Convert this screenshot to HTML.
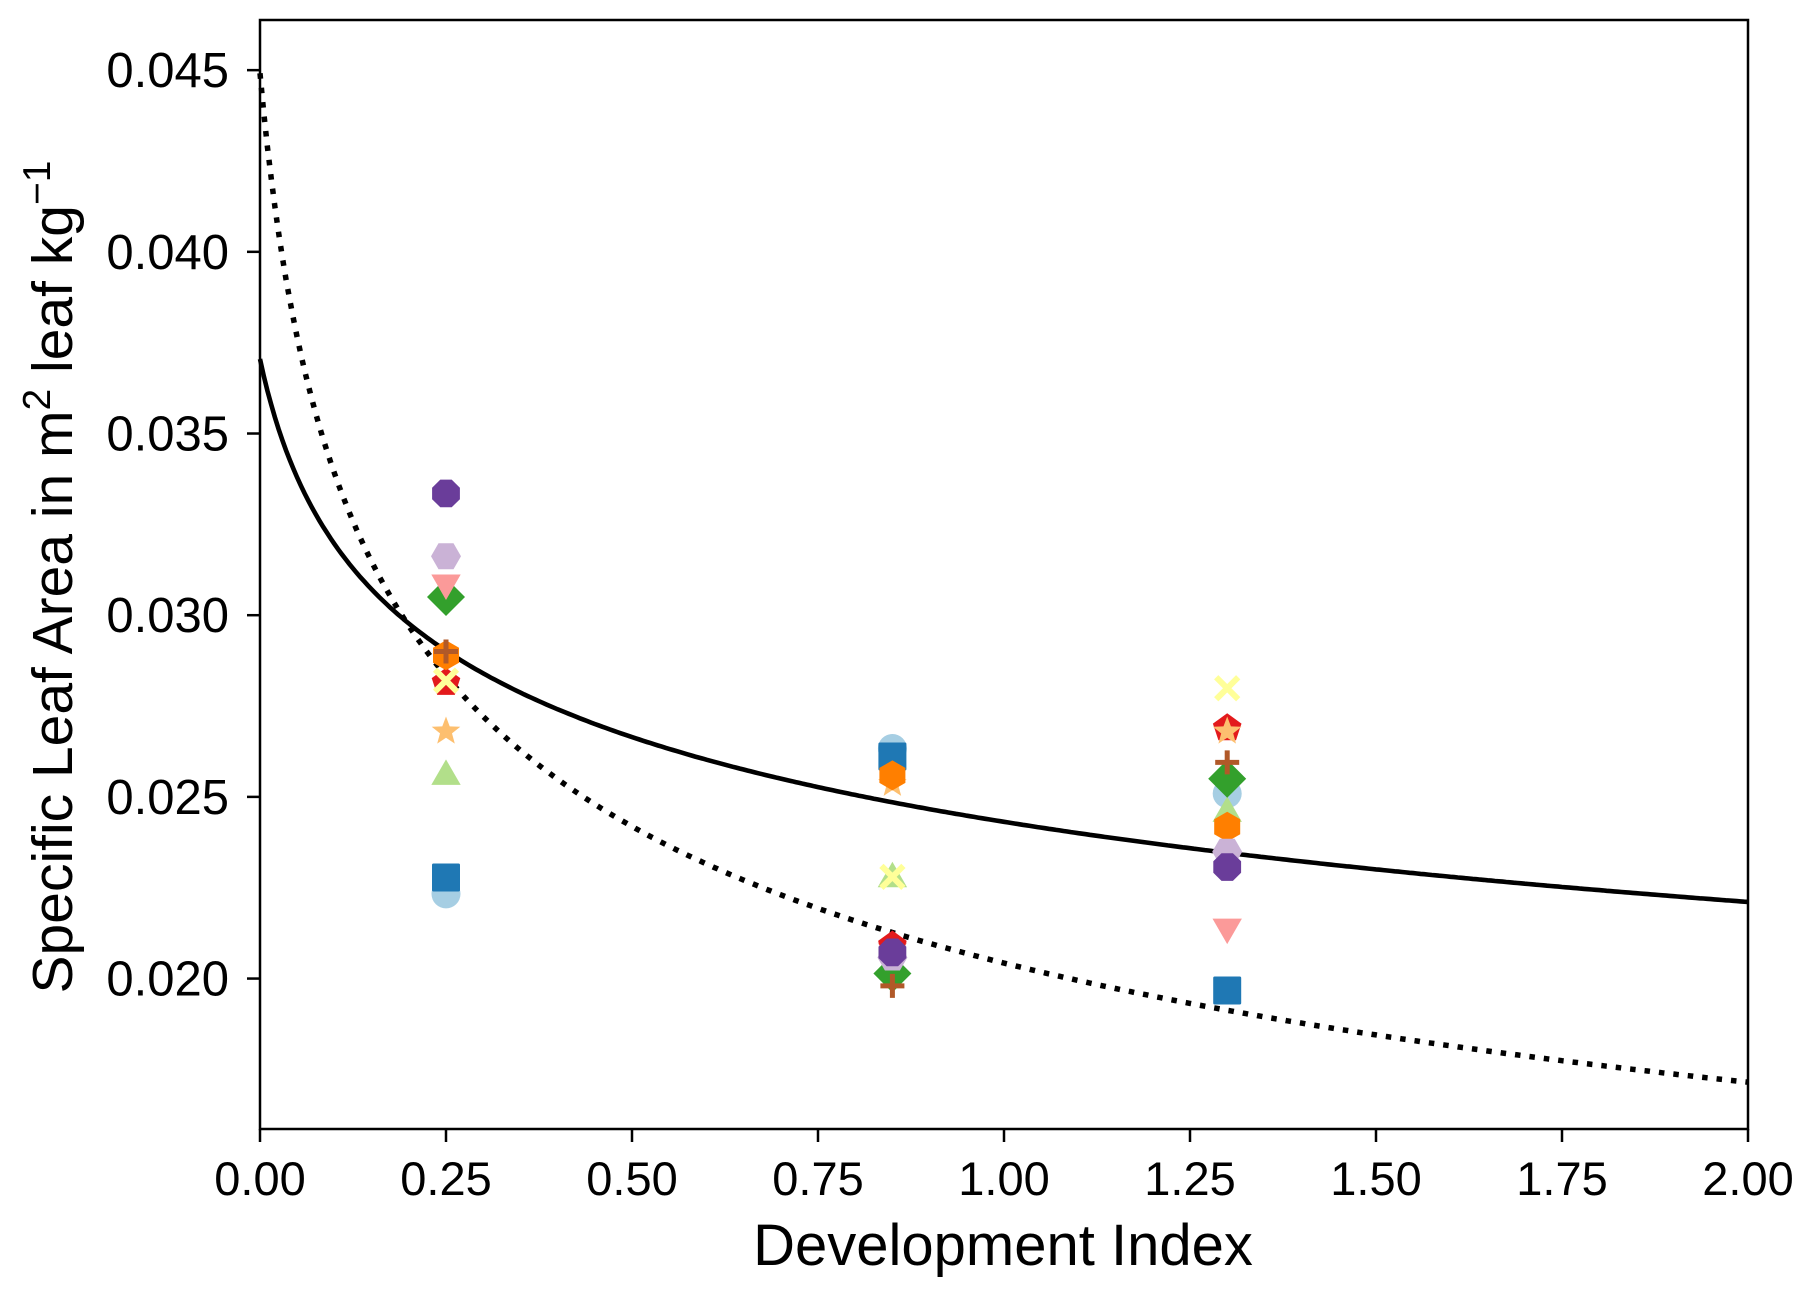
<!DOCTYPE html>
<html><head><meta charset="utf-8"><style>
html,body{margin:0;padding:0;background:#fff;}
svg{display:block;font-family:"Liberation Sans",Arial,sans-serif;}
</style></head><body>
<svg id="chart" width="1811" height="1295" viewBox="0 0 1811 1295" xmlns="http://www.w3.org/2000/svg">
<rect width="1811" height="1295" fill="#fff"/>
<g id="curves"></g>
<g id="marks"></g>
<g id="axes"></g>
<text x="1003" y="1265" font-size="58" text-anchor="middle">Development Index</text>
<text transform="translate(72,577) rotate(-90)" font-size="57" text-anchor="middle">Specific Leaf Area in m<tspan font-size="39" dy="-22">2</tspan><tspan dy="22"> leaf kg</tspan><tspan font-size="39" dy="-22">−1</tspan></text>
</svg>
<script>
const xTicks=[0,0.25,0.5,0.75,1.0,1.25,1.5,1.75,2.0];
const xTickLabels=["0.00","0.25","0.50","0.75","1.00","1.25","1.50","1.75","2.00"];
const yTicks=[0.020,0.025,0.030,0.035,0.040,0.045];
const yTickLabels=["0.020","0.025","0.030","0.035","0.040","0.045"];
const stages=[0.25,0.85,1.3];
const sCircle=[0.02233,0.02633,0.02509];
const sSquare=[0.02278,0.02611,0.01967];
const sTriUp=[0.02562,0.0228,0.0246];
const sDiamond=[0.0305,0.02014,0.0255];
const sTriDown=[0.03083,0.0207,0.02136];
const sPentagon=[0.02814,0.02091,0.02689];
const sStar=[0.0268,0.02536,0.0268];
const sHexOrange=[0.0289,0.02559,0.02418];
const sHexLilac=[0.03162,0.02058,0.02349];
const sOctagon=[0.03335,0.02072,0.02307];
const sCross=[0.0282,0.0228,0.02799];
const sPlus=[0.029,0.0198,0.02595];
const solidParams=[0.0245,0.055,0.1426];
const dottedParams=[0.0207,0.052,0.262];

const L=260,R=1748,T=20,B=1129,xmin=0,xmax=2,ymin=0.01586,ymax=0.04638;
const X=v=>L+(v-xmin)/(xmax-xmin)*(R-L);
const Y=v=>B-(v-ymin)/(ymax-ymin)*(B-T);
const NS="http://www.w3.org/2000/svg";
function mk(tag,attrs,parent){const e=document.createElementNS(NS,tag);for(const k in attrs)e.setAttribute(k,attrs[k]);parent.appendChild(e);return e;}

const cg=document.getElementById('curves');
function curvePath(p,cap){let d="";for(let i=0;i<=400;i++){const x=xmax*i/400;const y=p[0]*Math.pow(x+p[1],-p[2]);d+=(i?"L":"M")+X(x).toFixed(1)+","+Y(Math.min(y,cap)).toFixed(1);}return d;}
const c1=mk('path',{d:curvePath(solidParams,ymax),fill:'none',stroke:'#000','stroke-width':4.6},cg);


const c2=mk('path',{d:curvePath(dottedParams,0.045),fill:'none',stroke:'#000','stroke-width':5.5,'stroke-dasharray':'5.5 9'},cg);



const mg=document.getElementById('marks');
function poly(n,r,rot,cx,cy){let p=[];for(let i=0;i<n;i++){const a=rot+i*2*Math.PI/n;p.push((cx+r*Math.cos(a)).toFixed(1)+","+(cy+r*Math.sin(a)).toFixed(1));}return p.join(" ");}
function star(r,cx,cy){let p=[];for(let i=0;i<10;i++){const rr=i%2?r*0.42:r;const a=-Math.PI/2+i*Math.PI/5;p.push((cx+rr*Math.cos(a)).toFixed(1)+","+(cy+rr*Math.sin(a)).toFixed(1));}return p.join(" ");}
const series=[
 {name:'circle',vals:sCircle,color:'#a6cee3'},
 {name:'square',vals:sSquare,color:'#1f78b4'},
 {name:'triangle-up',vals:sTriUp,color:'#b2df8a'},
 {name:'diamond',vals:sDiamond,color:'#33a02c'},
 {name:'triangle-down',vals:sTriDown,color:'#fb9a99'},
 {name:'pentagon',vals:sPentagon,color:'#e31a1c'},
 {name:'star',vals:sStar,color:'#fdbf6f'},
 {name:'hexagon',vals:sHexOrange,color:'#ff7f00'},
 {name:'hexagon-rotated',vals:sHexLilac,color:'#cab2d6'},
 {name:'octagon',vals:sOctagon,color:'#6a3d9a'},
 {name:'cross',vals:sCross,color:'#ffff99'},
 {name:'plus',vals:sPlus,color:'#b15928'}
];
series.forEach(s=>{s.vals.forEach((v,i)=>{
 const cx=X(stages[i]),cy=Y(v);let e;
 switch(s.name){
  case 'circle':e=mk('circle',{cx:cx,cy:cy,r:14.5,fill:s.color},mg);break;
  case 'square':e=mk('rect',{x:cx-14,y:cy-14,width:28,height:28,rx:1.5,fill:s.color},mg);break;
  case 'triangle-up':e=mk('polygon',{points:poly(3,17,-Math.PI/2,cx,cy+2),fill:s.color},mg);break;
  case 'triangle-down':e=mk('polygon',{points:poly(3,17,Math.PI/2,cx,cy-2),fill:s.color},mg);break;
  case 'diamond':e=mk('polygon',{points:poly(4,19,0,cx,cy),fill:s.color},mg);break;
  case 'pentagon':e=mk('polygon',{points:poly(5,15,-Math.PI/2,cx,cy),fill:s.color},mg);break;
  case 'star':e=mk('polygon',{points:star(15,cx,cy),fill:s.color},mg);break;
  case 'hexagon':e=mk('polygon',{points:poly(6,15,-Math.PI/2,cx,cy),fill:s.color},mg);break;
  case 'hexagon-rotated':e=mk('polygon',{points:poly(6,15,0,cx,cy),fill:s.color},mg);break;
  case 'octagon':e=mk('polygon',{points:poly(8,15,Math.PI/8,cx,cy),fill:s.color},mg);break;
  case 'cross':e=mk('path',{d:`M${cx-11},${cy-11}L${cx+11},${cy+11}M${cx-11},${cy+11}L${cx+11},${cy-11}`,stroke:s.color,'stroke-width':6,fill:'none'},mg);break;
  case 'plus':e=mk('path',{d:`M${cx-12},${cy}L${cx+12},${cy}M${cx},${cy-12}L${cx},${cy+12}`,stroke:s.color,'stroke-width':5,fill:'none'},mg);break;
 }
 
 
});});

const ag=document.getElementById('axes');
const frame=mk('rect',{x:L,y:T,width:R-L,height:B-T,fill:'none',stroke:'#000','stroke-width':2.5},ag);


xTicks.forEach((v,i)=>{
 const t=mk('line',{x1:X(v),x2:X(v),y1:B,y2:B+13,stroke:'#000','stroke-width':2.5},ag);
 
 
 const l=mk('text',{x:X(v),y:1195,'font-size':47,'text-anchor':'middle'},ag);l.textContent=xTickLabels[i];
 
 
});
yTicks.forEach((v,i)=>{
 const t=mk('line',{x1:L-13,x2:L,y1:Y(v),y2:Y(v),stroke:'#000','stroke-width':2.5},ag);
 
 
 const l=mk('text',{x:229,y:Y(v)+17,'font-size':49,'text-anchor':'end'},ag);l.textContent=yTickLabels[i];
 
 
});
</script>
</body></html>
